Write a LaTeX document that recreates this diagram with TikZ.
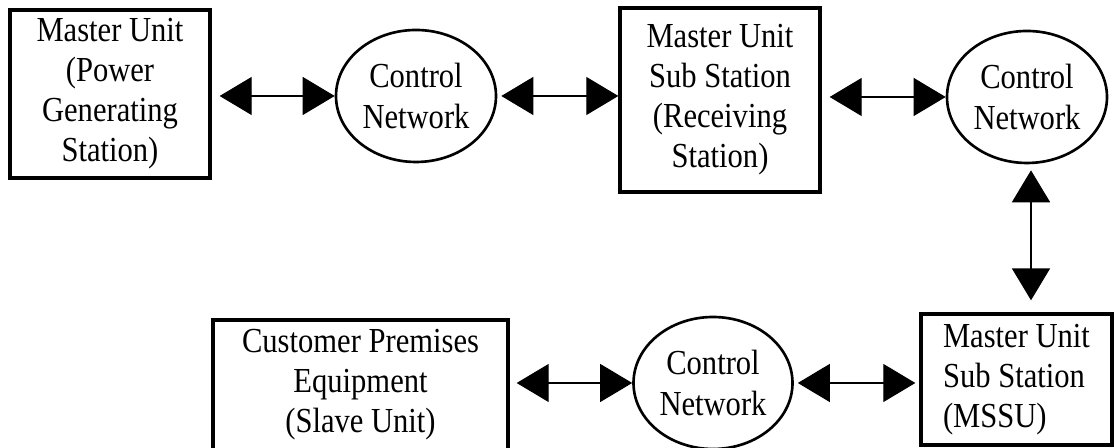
\documentclass[tikz,border=0pt]{standalone}
\usepackage{fontspec}
\setmainfont[FakeStretch=0.87]{Liberation Serif}
\usetikzlibrary{arrows.meta,shapes.geometric}

\tikzset{
	unit/.style={draw, line width=1.9pt, align=center, inner sep=0pt},
	net/.style={draw, ellipse, line width=1.5pt, minimum width=3.2cm, minimum height=2.64cm, align=center, inner sep=0pt},
	link/.style={line width=0.6pt, {Triangle[length=0.64cm,width=0.76cm]}-{Triangle[length=0.64cm,width=0.76cm]}}
}

\begin{document}
\begin{tikzpicture}[scale=1, font=\fontsize{20}{22.8}\selectfont]
	\useasboundingbox (0,0) rectangle (22.28,8.96);
	\node[unit, minimum width=4cm, minimum height=3.36cm] (mu) at (2.2,7.08) {Master Unit\\(Power\\Generating\\Station)};
	\node[net] (cn1) at (8.32,7.04) {Control\\Network};
	\node[unit, minimum width=4cm, minimum height=3.68cm] (muss) at (14.4,6.96) {Master Unit\\Sub Station\\(Receiving\\Station)};
	\node[net] (cn2) at (20.54,7.02) {Control\\Network};
	\node[unit, align=left, minimum width=3.82cm, minimum height=2.62cm] (mssu) at (20.33,1.37) {Master Unit\\Sub Station\\(MSSU)};
	\node[net, minimum width=3.18cm] (cn3) at (14.26,1.30) {Control\\Network};
	\node[unit, minimum width=5.9cm, minimum height=2.6cm] (cpe) at (7.21,1.26) {Customer Premises\\Equipment\\(Slave Unit)};
	% links
	\draw[link, shorten <=0.16cm] (mu.east |- cn1.west) -- (cn1.west);
	\draw[link, shorten <=0.08cm] (cn1.east) -- (muss.west |- cn1.east);
	\draw[link, shorten <=0.16cm] (muss.east |- cn2.west) -- (cn2.west);
	\draw[link, line width=1.1pt, shorten <=0.12cm, shorten >=0.24cm] ([xshift=0.08cm]cn2.south) -- ([xshift=0.08cm]cn2.south |- mssu.north);
	\draw[link, shorten <=0.08cm, shorten >=0.08cm] (cn3.east) -- (mssu.west |- cn3.east);
	\draw[link, shorten <=0.14cm] (cpe.east |- cn3.west) -- (cn3.west);
\end{tikzpicture}
\end{document}
